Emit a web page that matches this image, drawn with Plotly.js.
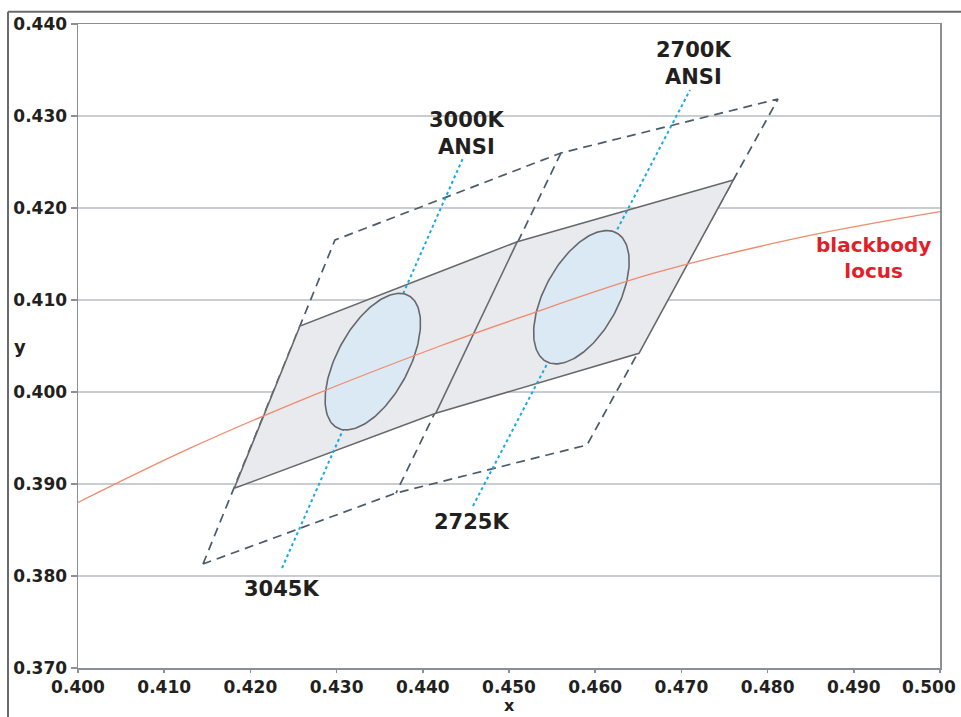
<!DOCTYPE html>
<html><head><meta charset="utf-8">
<script src="https://cdn.plot.ly/plotly-3.0.1.min.js"></script>
<style>html,body{margin:0;padding:0;background:#fff}#chart{width:961px;height:717px}</style>
</head><body><div id="chart"></div>
<script>
// Axis ticks (last x label is drawn shifted left so it fits inside the figure)
const xTickVals = [0.400, 0.410, 0.420, 0.430, 0.440, 0.450, 0.460, 0.470, 0.480, 0.490, 0.500];
const xTickText = ['0.400', '0.410', '0.420', '0.430', '0.440', '0.450', '0.460', '0.470', '0.480', '0.490', ''];
const xLastTickText = '0.500';
const yTickVals = [0.370, 0.380, 0.390, 0.400, 0.410, 0.420, 0.430, 0.440];
const yTickText = ['0.370', '0.380', '0.390', '0.400', '0.410', '0.420', '0.430', '0.440'];

// Blackbody locus
const locusX = [0.400, 0.413, 0.4269, 0.4420, 0.4513, 0.4664, 0.4838, 0.500];
const locusY = [0.3880, 0.3939, 0.3995, 0.4050, 0.4081, 0.4128, 0.4168, 0.4196];

// Solid quadrangle (two bins)
const solidX = [0.41813, 0.42575, 0.45096, 0.47602, 0.46508, 0.44150, 0.41813];
const solidY = [0.38953, 0.40717, 0.41634, 0.42304, 0.40421, 0.39768, 0.38953];
const dividerX = [0.45096, 0.44150];
const dividerY = [0.41634, 0.39768];

// Dashed outer quadrangle
const dashedX = [0.41450, 0.42981, 0.45603, 0.48121, 0.45905, 0.43689, 0.41450, null, 0.45603, 0.43689];
const dashedY = [0.38130, 0.41652, 0.42598, 0.43185, 0.39424, 0.38902, 0.38130, null, 0.42598, 0.38902];

// Isotemperature (CCT) dotted lines
const cct3000X = [0.42367, 0.44466];
const cct3000Y = [0.38087, 0.42543];
const cct2700X = [0.44582, 0.47100];
const cct2700Y = [0.38761, 0.43283];

// ANSI 7-step ellipses: centre, semi-axes, rotation (deg)
const ellipseCx = [0.4342, 0.4584];
const ellipseCy = [0.4033, 0.4103];
const ellipseA = [0.0083, 0.0081];
const ellipseB = [0.0041, 0.0042];
const ellipseTheta = [59, 58.5];

// Labels
const labelTexts = ['3000K<br>ANSI', '2700K<br>ANSI', '3045K', '2725K'];
const labelX = [0.44509, 0.47135, 0.42363, 0.44567];
const labelY = [0.42810, 0.43576, 0.37859, 0.38587];
const locusLabel = 'blackbody<br>locus';
const locusLabelX = 0.49223;
const locusLabelY = 0.41462;

function ellipsePts(i) {
  const xs = [], ys = [];
  const th = ellipseTheta[i] * Math.PI / 180;
  const N = 180;
  for (let k = 0; k <= N; k++) {
    const t = 2 * Math.PI * k / N;
    const u = ellipseA[i] * Math.cos(t), v = ellipseB[i] * Math.sin(t);
    xs.push(ellipseCx[i] + u * Math.cos(th) - v * Math.sin(th));
    ys.push(ellipseCy[i] + u * Math.sin(th) + v * Math.cos(th));
  }
  return {xs, ys};
}

const FONT = 'DejaVu Sans, Verdana, sans-serif';
const traces = [];
traces.push({x: dashedX, y: dashedY, mode: 'lines', line: {color: '#4a5b6b', width: 1.7, dash: '9px,6px'}, hoverinfo: 'skip', showlegend: false});
traces.push({x: solidX, y: solidY, mode: 'lines', fill: 'toself', fillcolor: '#e9eaee', line: {color: '#66686b', width: 1.6}, hoverinfo: 'skip', showlegend: false});
traces.push({x: dividerX, y: dividerY, mode: 'lines', line: {color: '#66686b', width: 1.6}, hoverinfo: 'skip', showlegend: false});
traces.push({x: cct3000X, y: cct3000Y, mode: 'lines', line: {color: '#1aa9e8', width: 2, dash: 'dot'}, hoverinfo: 'skip', showlegend: false});
traces.push({x: cct2700X, y: cct2700Y, mode: 'lines', line: {color: '#1aa9e8', width: 2, dash: 'dot'}, hoverinfo: 'skip', showlegend: false});
for (let i = 0; i < ellipseCx.length; i++) {
  const e = ellipsePts(i);
  traces.push({x: e.xs, y: e.ys, mode: 'lines', fill: 'toself', fillcolor: '#dae9f3', line: {color: '#66686b', width: 1.6}, hoverinfo: 'skip', showlegend: false});
}
traces.push({x: locusX, y: locusY, mode: 'lines', line: {color: '#f08a6e', width: 1.3, shape: 'spline', smoothing: 1}, hoverinfo: 'skip', showlegend: false});

const annotations = [];
for (let i = 0; i < labelTexts.length; i++) {
  annotations.push({x: labelX[i], y: labelY[i], xref: 'x', yref: 'y', text: labelTexts[i], showarrow: false,
    xanchor: 'center', yanchor: 'middle', align: 'center', borderpad: 0,
    font: {family: FONT, size: 21, weight: 700, color: '#231f20'}});
}
annotations.push({x: locusLabelX, y: locusLabelY, xref: 'x', yref: 'y', text: locusLabel, showarrow: false,
  xanchor: 'center', yanchor: 'middle', align: 'center', borderpad: 0,
  font: {family: FONT, size: 20, weight: 700, color: '#e31e2a'}});
annotations.push({x: -0.0673, y: 0.5, xref: 'paper', yref: 'paper', text: 'y', showarrow: false,
  xanchor: 'center', yanchor: 'middle', borderpad: 0, font: {family: FONT, size: 18, weight: 700, color: '#231f20'}});
annotations.push({x: 0.5, y: -0.059, xref: 'paper', yref: 'paper', text: 'x', showarrow: false,
  xanchor: 'center', yanchor: 'middle', borderpad: 0, font: {family: FONT, size: 16, weight: 700, color: '#231f20'}});
annotations.push({x: 0.9872, y: -0.0295, xref: 'paper', yref: 'paper', text: xLastTickText, showarrow: false,
  xanchor: 'center', yanchor: 'middle', borderpad: 0, font: {family: FONT, size: 17, weight: 700, color: '#231f20'}});

const axisCommon = {
  showline: true, linecolor: '#8c8f93', linewidth: 1.5, mirror: true,
  ticks: 'outside', tickcolor: '#8c8f93', tickwidth: 1.5,
  zeroline: false, fixedrange: true, tickmode: 'array',
  tickfont: {family: FONT, size: 17, weight: 700, color: '#231f20'}
};

const layout = {
  width: 961, height: 717,
  margin: {l: 78, r: 21, t: 24, b: 49},
  paper_bgcolor: '#ffffff', plot_bgcolor: '#ffffff',
  xaxis: Object.assign({}, axisCommon, {range: [0.4, 0.5], tickvals: xTickVals, ticktext: xTickText, showgrid: false, ticklen: 3}),
  yaxis: Object.assign({}, axisCommon, {range: [0.37, 0.44], tickvals: yTickVals, ticktext: yTickText, showgrid: true, gridcolor: '#c9cdd2', gridwidth: 1.5, ticklen: 6}),
  annotations: annotations,
  shapes: [
    {type: 'line', xref: 'paper', yref: 'paper', x0: -0.0812, x1: 1.03, y0: 1.0191, y1: 1.0191, line: {color: '#6b6b6b', width: 2}},
    {type: 'line', xref: 'paper', yref: 'paper', x0: -0.0812, x1: -0.0812, y0: 1.0191, y1: -0.09, line: {color: '#6b6b6b', width: 2}}
  ]
};

Plotly.newPlot('chart', traces, layout, {displayModeBar: false, staticPlot: true});
</script></body></html>
